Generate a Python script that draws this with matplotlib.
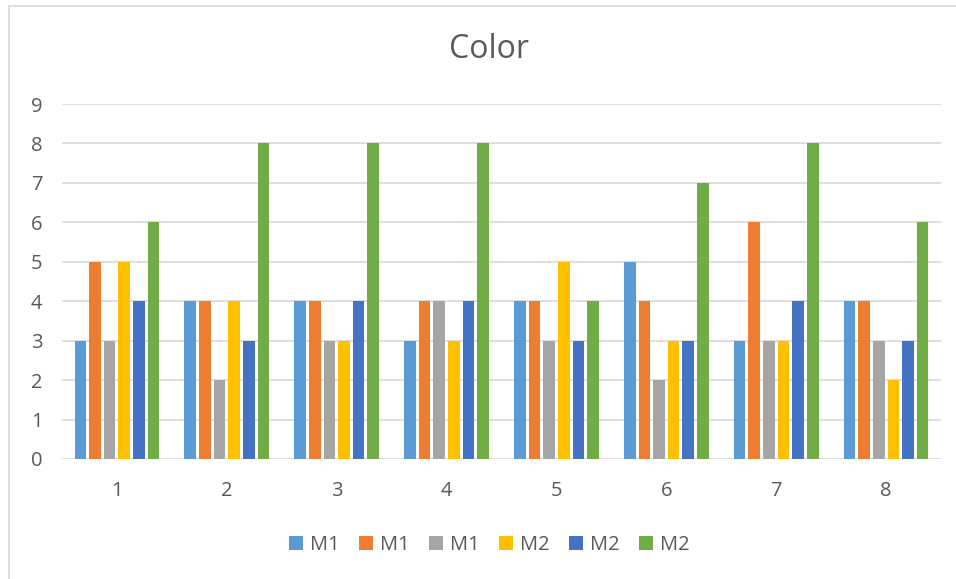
import numpy as np
import matplotlib
matplotlib.use("Agg")
import matplotlib.pyplot as plt
from matplotlib.patches import Rectangle

categories = ["1", "2", "3", "4", "5", "6", "7", "8"]
series_names = ["M1", "M1", "M1", "M2", "M2", "M2"]
series_values = [
    [3, 4, 4, 3, 4, 5, 3, 4],
    [5, 4, 4, 4, 4, 4, 6, 4],
    [3, 2, 3, 4, 3, 2, 3, 3],
    [5, 4, 3, 3, 5, 3, 3, 2],
    [4, 3, 4, 4, 3, 3, 4, 3],
    [6, 8, 8, 8, 4, 7, 8, 6],
]
colors = ["#5B9BD5", "#ED7D31", "#A5A5A5", "#FFC000", "#4472C4", "#70AD47"]

TEXT = "#595959"
GRID = "#D9D9D9"
plt.rcParams["font.family"] = ["Open Sans", "DejaVu Sans"]

W, H = 956, 579
fig = plt.figure(figsize=(W / 100, H / 100), dpi=100, facecolor="white")
ax = fig.add_axes([62 / W, 1 - 459 / H, (941 - 62) / W, (459 - 104) / H])

# Excel-style clustered columns: gap width 219%, overlap -27%
n = len(series_values)
bar_w = 1 / (n + (n - 1) * 0.27 + 2.19)
step = bar_w * 1.27
x = np.arange(len(categories))
for j, (vals, name, c) in enumerate(zip(series_values, series_names, colors)):
    ax.bar(x + (j - (n - 1) / 2) * step, vals, width=bar_w, color=c,
           label=name, zorder=3)

ax.set_xlim(-0.5, len(categories) - 0.5)
ax.set_ylim(0, 9)
ax.set_yticks(range(10))
ax.set_xticks(x)
ax.set_xticklabels(categories)
ax.yaxis.grid(True, color=GRID, linewidth=1.2, zorder=0)
for s in ax.spines.values():
    s.set_visible(False)
ax.tick_params(axis="both", length=0, labelsize=14.5, colors=TEXT)
ax.tick_params(axis="x", pad=16)
ax.tick_params(axis="y", pad=14)

# the chart frame runs past the right edge, so its centre sits right of 0.5
cx = 489 / W
fig.text(cx, 1 - 50 / H, "Color", ha="center", va="center",
         fontsize=23, color=TEXT)

fig.legend(loc="center", bbox_to_anchor=(cx, 1 - 545 / H), ncol=6,
           frameon=False, fontsize=14.5, labelcolor=TEXT,
           handlelength=0.7, handleheight=0.7, handletextpad=0.35,
           columnspacing=0.95)

fig.patches.append(Rectangle((9 / W, -0.01), 1.0, 1 - 6 / H + 0.01,
                             transform=fig.transFigure, fill=False,
                             edgecolor=GRID, linewidth=1.2))

fig.savefig("out.png", dpi=100, facecolor="white")
